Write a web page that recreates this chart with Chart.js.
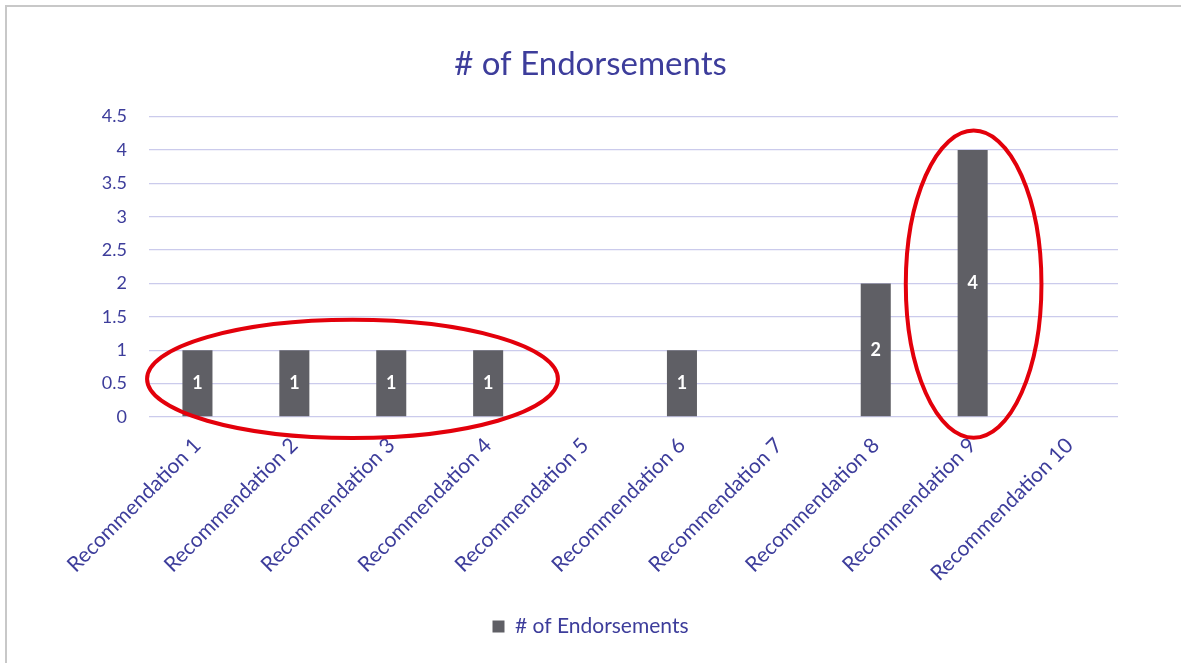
<!DOCTYPE html>
<html>
<head>
<meta charset="utf-8">
<script src="https://cdn.jsdelivr.net/npm/chart.js@4"></script>
<style>
  body { margin: 0; background: #fff; }
  #wrap { position: relative; width: 1181px; height: 663px; overflow: hidden; }
  #frame {
    position: absolute; left: 5px; top: 5px; right: -5px; bottom: -5px;
    border-left: 2px solid #c8c8c8; border-top: 2px solid #c8c8c8;
    pointer-events: none;
  }
</style>
</head>
<body>
<div id="wrap">
  <canvas id="barChart" width="1181" height="663"></canvas>
  <div id="frame"></div>
</div>
<script>
const labels = [
  "Recommendation 1", "Recommendation 2", "Recommendation 3", "Recommendation 4",
  "Recommendation 5", "Recommendation 6", "Recommendation 7", "Recommendation 8",
  "Recommendation 9", "Recommendation 10",
];
const endorsements = [1, 1, 1, 1, null, 1, null, 2, 4, null];
const yTicks = [0, 0.5, 1, 1.5, 2, 2.5, 3, 3.5, 4, 4.5];

// red rings drawn on top (in data units: category index / value)
const rings = [
  { x: 1.6, y: 0.57, rx: 2.12, ry: 0.885 },
  { x: 8.01, y: 1.99, rx: 0.7, ry: 2.3 },
];

const textColor = "#3d3d9b";
const barColor = "#5f5f65";
const fontName = "Lato, 'Open Sans', sans-serif";

// valeurs en blanc au milieu des barres
const valueLabels = {
  id: "valueLabels",
  afterDatasetsDraw: (chart) => {
    const { ctx } = chart;
    const meta = chart.getDatasetMeta(0);
    ctx.save();
    ctx.fillStyle = "#ffffff";
    ctx.font = "bold 18px " + fontName;
    ctx.textAlign = "center";
    ctx.textBaseline = "middle";
    meta.data.forEach((bar, i) => {
      const v = endorsements[i];
      if (v == null) return;
      ctx.fillText(String(v), bar.x, (bar.y + bar.base) / 2);
    });
    ctx.restore();
  },
};

const ringsPlugin = {
  id: "rings",
  afterDraw: (chart) => {
    const { ctx, scales } = chart;
    const catW = scales.x.getPixelForValue(1) - scales.x.getPixelForValue(0);
    const unitH = scales.y.getPixelForValue(0) - scales.y.getPixelForValue(1);
    ctx.save();
    ctx.strokeStyle = "#e3000b";
    ctx.lineWidth = 4;
    rings.forEach((r) => {
      ctx.beginPath();
      ctx.ellipse(
        scales.x.getPixelForValue(r.x),
        scales.y.getPixelForValue(r.y),
        r.rx * catW,
        r.ry * unitH,
        0, 0, Math.PI * 2,
      );
      ctx.stroke();
    });
    ctx.restore();
  },
};

const ctx = document.getElementById("barChart").getContext("2d");
new Chart(ctx, {
  type: "bar",
  data: {
    labels: labels,
    datasets: [
      {
        label: "# of Endorsements",
        data: endorsements,
        backgroundColor: barColor,
        barPercentage: 0.62,
        categoryPercentage: 0.5,
      },
    ],
  },
  options: {
    responsive: false,
    animation: false,
    devicePixelRatio: 1,
    layout: { padding: { left: 0, right: 0, top: 0, bottom: 16 } },
    scales: {
      x: {
        grid: { display: false, drawTicks: false },
        border: { display: false },
        ticks: {
          color: textColor,
          font: { family: fontName, size: 21 },
          minRotation: 45,
          maxRotation: 45,
          padding: 16,
          labelOffset: 0,
          autoSkip: false,
        },
        afterFit: (scale) => { scale.height = 189; },
      },
      y: {
        min: 0,
        max: 4.5,
        afterBuildTicks: (scale) => {
          scale.ticks = yTicks.map((v) => ({ value: v }));
        },
        grid: { color: "#cbcbec", drawTicks: false, lineWidth: 1.3 },
        border: { display: false },
        ticks: {
          color: textColor,
          font: { family: fontName, size: 18 },
          padding: 22,
          callback: (v) => String(v),
        },
        afterFit: (scale) => { scale.width = 149; },
      },
      // axe vide a droite, juste pour garder le titre centre
      spacer: {
        type: "linear",
        position: "right",
        grid: { display: false, drawTicks: false },
        border: { display: false },
        ticks: { display: false },
        afterFit: (scale) => { scale.width = 63; },
      },
    },
    plugins: {
      title: {
        display: true,
        text: "# of Endorsements",
        color: textColor,
        font: { family: fontName, size: 33, weight: "normal" },
        padding: { top: 45, bottom: 32 },
      },
      legend: {
        position: "bottom",
        labels: {
          color: textColor,
          font: { family: fontName, size: 21 },
          boxWidth: 12,
          boxHeight: 12,
          padding: 10,
        },
      },
      tooltip: { enabled: false },
    },
  },
  plugins: [valueLabels, ringsPlugin],
});
</script>
</body>
</html>
